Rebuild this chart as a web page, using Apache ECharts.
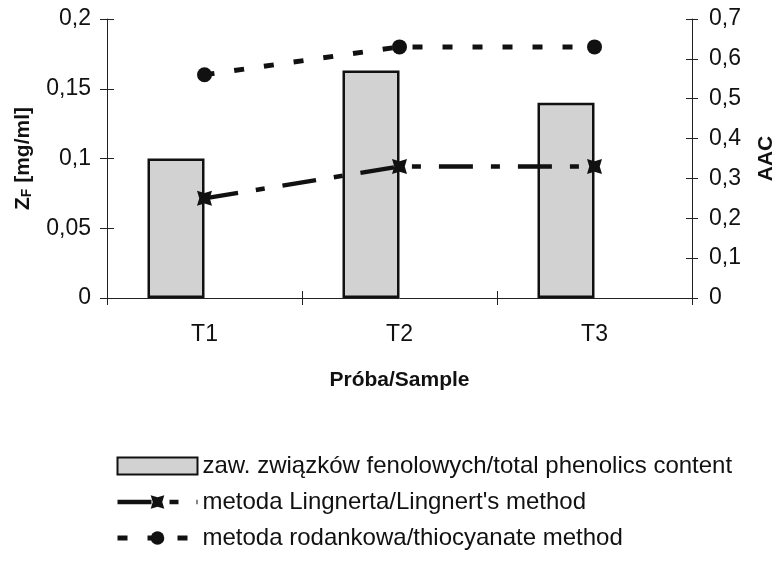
<!DOCTYPE html>
<html><head><meta charset="utf-8">
<script src="https://cdn.jsdelivr.net/npm/echarts@6/dist/echarts.min.js"></script>
<style>html,body{margin:0;padding:0;background:#fff}#c{width:774px;height:567px}</style>
</head><body><div id="c"></div>
<script>
const categories = ['T1', 'T2', 'T3'];
const phenolics = [0.1, 0.163, 0.14];
const lingnert = [0.25, 0.33, 0.33];
const thiocyanate = [0.56, 0.63, 0.63];
const leftTickLabels = ['0', '0,05', '0,1', '0,15', '0,2'];
const rightTickLabels = ['0', '0,1', '0,2', '0,3', '0,4', '0,5', '0,6', '0,7'];
const seriesNames = ['zaw. związków fenolowych/total phenolics content', "metoda Lingnerta/Lingnert's method", 'metoda rodankowa/thiocyanate method'];

const FONT = '"Liberation Sans", Arial, sans-serif';
const starPath = 'path://M0,0 L10,3 L20,0 L17,10 L20,20 L10,17 L0,20 L3,10 Z';
const chart = echarts.init(document.getElementById('c'), null, {renderer: 'canvas'});
const axisLine = {show: true, lineStyle: {color: '#222', width: 1}};
const tickOut = n => ({show: true, inside: false, length: n, lineStyle: {color: '#222', width: 1}});
const tickIn = n => ({show: true, inside: true, length: n, lineStyle: {color: '#222', width: 1}});
const tickLabel = {fontFamily: FONT, fontSize: 23, color: '#111'};

chart.setOption({
  animation: false,
  backgroundColor: '#fff',
  textStyle: {fontFamily: FONT},
  grid: {left: 107, right: 82, top: 19, bottom: 269, containLabel: false, outerBoundsMode: 'none'},
  legend: {
    orient: 'vertical', left: 115, top: 454, padding: 0, itemWidth: 80, itemHeight: 17, itemGap: 12,
    data: [
      {name: seriesNames[0], icon: 'rect', itemStyle: {borderColor: '#111', borderWidth: 2}},
      {name: seriesNames[1], lineStyle: {width: 4.5}},
      {name: seriesNames[2], lineStyle: {width: 5}}
    ],
    textStyle: {fontFamily: FONT, fontSize: 24, color: '#111'}
  },
  xAxis: [{
    type: 'category', data: categories, boundaryGap: true,
    axisLine: axisLine, axisTick: tickOut(7),
    axisLabel: Object.assign({margin: 25}, tickLabel),
    name: 'Próba/Sample', nameLocation: 'middle', nameGap: 72,
    nameTextStyle: {fontFamily: FONT, fontSize: 21, fontWeight: 'bold', color: '#111'}
  }, {
    type: 'category', data: categories, boundaryGap: true, position: 'bottom',
    axisLine: {show: false}, axisTick: tickIn(7), axisLabel: {show: false}
  }],
  yAxis: [{
    type: 'value', position: 'left', min: 0, max: 0.2, interval: 0.05,
    axisLine: axisLine, axisTick: tickOut(7), splitLine: {show: false},
    axisLabel: Object.assign({margin: 16, formatter: (v, i) => leftTickLabels[i]}, tickLabel),
    name: '{a|Z}{b|F}{a| [mg/ml]}', nameLocation: 'middle', nameGap: 73, nameRotate: 90,
    nameTextStyle: {
      rich: {
        a: {fontFamily: FONT, fontSize: 21, fontWeight: 'bold', color: '#111'},
        b: {fontFamily: FONT, fontSize: 14, fontWeight: 'bold', color: '#111', verticalAlign: 'bottom', padding: [8, 0, 0, 0]}
      }
    }
  }, {
    type: 'value', position: 'right', min: 0, max: 0.7, interval: 0.1,
    axisLine: axisLine, axisTick: tickOut(6), splitLine: {show: false},
    axisLabel: Object.assign({margin: 17, formatter: (v, i) => rightTickLabels[i]}, tickLabel),
    name: 'AAC', nameLocation: 'middle', nameGap: 64, nameRotate: 90,
    nameTextStyle: {fontFamily: FONT, fontSize: 21, fontWeight: 'bold', color: '#111'}
  }, {
    type: 'value', position: 'left', min: 0, max: 0.2, interval: 0.05,
    axisLine: {show: false}, axisTick: tickIn(7), axisLabel: {show: false}, splitLine: {show: false}
  }, {
    type: 'value', position: 'right', min: 0, max: 0.7, interval: 0.1,
    axisLine: {show: false}, axisTick: tickIn(6), axisLabel: {show: false}, splitLine: {show: false}
  }],
  series: [{
    name: seriesNames[0], type: 'bar', data: phenolics, barWidth: 57, barGap: '0%',
    xAxisIndex: 0, yAxisIndex: 0, z: 2,
    itemStyle: {color: '#d2d2d2', borderColor: '#111', borderWidth: 2.5}
  }, {
    name: '_pad', type: 'bar', data: phenolics.map(() => '-'), barWidth: 57, barGap: '0%',
    xAxisIndex: 0, yAxisIndex: 0
  }, {
    name: seriesNames[1], type: 'line', data: lingnert, xAxisIndex: 0, yAxisIndex: 1, z: 5,
    symbol: starPath, symbolSize: 15,
    lineStyle: {color: '#111', width: 4.5, type: [34, 18, 9, 18]},
    itemStyle: {color: '#111'}
  }, {
    name: seriesNames[2], type: 'line', data: thiocyanate, xAxisIndex: 0, yAxisIndex: 1, z: 5,
    symbol: 'circle', symbolSize: 15,
    lineStyle: {color: '#111', width: 5, type: [10, 20]},
    itemStyle: {color: '#111'}
  }]
});
</script>
</body></html>
